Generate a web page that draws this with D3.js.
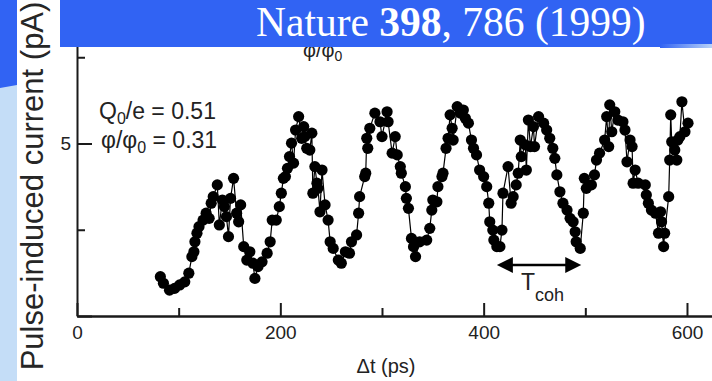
<!DOCTYPE html>
<html>
<head>
<meta charset="utf-8">
<script src="https://cdn.jsdelivr.net/npm/d3@7/dist/d3.min.js"></script>
<style>
  html, body { margin: 0; padding: 0; background: #fff; }
  svg { display: block; font-family: "Liberation Sans", Arial, Helvetica, sans-serif; }
</style>
</head>
<body>
<div id="chart"></div>
<script>
// Pulse-induced current vs delay time (Nakamura et al., Nature 398, 786)
const width = 712, height = 381;

// delay time, ps
const times = [
  82, 85, 91, 96, 101, 106, 110, 113, 115, 116, 118, 120, 124, 127, 130, 132, 134, 138, 140, 143,
  145, 147, 149, 151, 154, 157, 159, 161, 164, 167, 170, 173, 175, 178, 182, 187, 190, 192, 196, 199,
  201, 203, 205, 207, 209, 211, 213, 215, 218, 221, 223, 224, 226, 229, 231, 232, 234, 236, 237, 239,
  241, 244, 247, 249, 252, 257, 260, 264, 268, 270, 275, 277, 278, 283, 284, 285, 286, 288, 293, 298,
  300, 305, 306, 310, 313, 315, 318, 319, 323, 324, 326, 329, 331, 333, 337, 344, 347, 349, 350, 354,
  355, 359, 360, 363, 365, 367, 369, 370, 374, 377, 380, 382, 385, 388, 390, 393, 396, 400, 403, 405,
  406, 409, 410, 413, 416, 418, 419, 424, 427, 429, 432, 434, 436, 437, 441, 442, 444, 446, 449, 450,
  454, 459, 462, 465, 468, 470, 472, 475, 478, 482, 485, 488, 490, 491, 495, 498, 499, 501, 506, 509,
  511, 514, 519, 521, 523, 524, 526, 529, 532, 537, 539, 541, 544, 546, 547, 549, 552, 559, 560, 562,
  565, 569, 572, 574, 575, 577, 578, 582, 583, 584, 585, 588, 590, 591, 593, 595, 598, 601
];
// pulse-induced current, pA
const currents = [
  1.14, 0.95, 0.75, 0.80, 0.90, 0.99, 1.24, 1.72, 1.86, 2.15, 2.40, 2.59, 2.78, 2.98, 2.83, 3.27, 3.46, 3.80, 2.64, 3.36,
  3.17, 2.88, 2.30, 3.41, 3.99, 2.98, 2.73, 3.22, 2.01, 1.62, 1.86, 1.53, 1.09, 1.43, 1.57, 1.82, 2.15, 2.78, 2.78, 3.17,
  3.56, 3.99, 4.04, 4.28, 4.62, 5.01, 4.43, 5.39, 5.78, 5.15, 5.49, 5.20, 4.86, 4.81, 5.30, 3.56, 4.33, 3.85, 3.70, 3.02,
  4.23, 3.22, 2.78, 2.15, 1.96, 1.62, 1.53, 1.86, 1.82, 2.15, 2.35, 2.98, 3.46, 4.04, 4.14, 5.15, 4.86, 5.44, 5.88, 5.63,
  5.20, 5.92, 5.63, 4.72, 5.20, 4.67, 4.33, 4.14, 3.75, 3.41, 3.12, 2.25, 2.01, 1.72, 2.15, 2.20, 2.54, 3.07, 3.36, 3.31,
  3.75, 4.04, 4.14, 4.86, 5.15, 5.83, 5.44, 5.10, 6.07, 5.88, 5.97, 5.73, 5.59, 5.10, 4.86, 4.67, 4.23, 4.04, 3.75, 3.27,
  2.73, 2.49, 2.20, 2.01, 2.01, 2.49, 3.56, 4.33, 3.27, 3.46, 3.80, 4.14, 5.10, 4.62, 4.96, 4.23, 5.68, 4.91, 5.49, 4.91,
  5.78, 5.59, 5.39, 5.15, 4.86, 4.57, 4.09, 3.60, 3.27, 3.07, 2.83, 2.73, 2.44, 2.15, 1.96, 2.98, 3.99, 3.70, 3.80, 4.09,
  4.52, 4.72, 5.10, 5.78, 4.91, 6.12, 5.34, 5.92, 5.68, 5.63, 5.39, 4.47, 5.10, 4.91, 3.85, 4.23, 3.85, 3.80, 3.51, 3.27,
  3.07, 2.98, 2.40, 3.02, 2.73, 2.01, 2.40, 3.46, 4.52, 5.83, 5.05, 4.81, 4.52, 5.10, 5.20, 6.21, 5.34, 5.59
];

const xMajorTicks = [0, 200, 400, 600];
const xMinorTicks = [100, 300, 500];
const yMajorTicks = [0, 5];
const yMinorTicks = [2.5, 7.5];
const tcohSpan = [413, 496];   // coherence time arrow, ps
const tcohLevel = 1.48;        // arrow height, pA

const data = times.map((t, i) => ({t: t, v: currents[i]}));

const svg = d3.select("#chart").append("svg")
  .attr("width", width).attr("height", height);

const x = d3.scaleLinear().domain([0, 625]).range([77, 712.4]);
const y = d3.scaleLinear().domain([0, 10]).range([316, -29]);

// slide background: left strip
svg.append("rect").attr("x", 0).attr("y", 0).attr("width", 17).attr("height", height)
  .attr("fill", "#c4ddf7");
svg.append("polygon").attr("points", "0,0 17,0 17,85 0,88").attr("fill", "#3163f3");

// partly hidden plot title (under banner)
svg.append("text").attr("x", 303).attr("y", 57).attr("font-size", 20).attr("fill", "#222")
  .html('φ/φ<tspan dy="4" font-size="14">0</tspan>');

// axes
const axisColor = "#1a1a1a";
function styleAxis(g) {
  g.selectAll("path, line").attr("stroke", axisColor).attr("stroke-width", 2);
  g.selectAll("text").attr("fill", "#222").attr("font-size", 19)
    .attr("font-family", "'Liberation Sans', Arial, sans-serif");
}

svg.append("g").attr("transform", `translate(0,${y(0)})`)
  .call(d3.axisBottom(x).tickValues(xMajorTicks).tickSize(-13).tickSizeOuter(0).tickPadding(10))
  .call(styleAxis);
svg.append("g").attr("transform", `translate(0,${y(0)})`)
  .call(d3.axisBottom(x).tickValues(xMinorTicks).tickSize(-8).tickSizeOuter(0).tickFormat(""))
  .call(styleAxis);

const yAxis = svg.append("g").attr("transform", `translate(${x(0)},0)`)
  .call(d3.axisLeft(y).tickValues(yMajorTicks).tickSize(-15).tickSizeOuter(0).tickPadding(6))
  .call(styleAxis);
svg.append("g").attr("transform", `translate(${x(0)},0)`)
  .call(d3.axisLeft(y).tickValues(yMinorTicks).tickSize(-8).tickSizeOuter(0).tickFormat(""))
  .call(styleAxis)
  .select(".domain").remove();

// the zero label of the y axis is cut off at the figure's left edge
svg.append("clipPath").attr("id", "figclip")
  .append("rect").attr("x", 60).attr("y", 0).attr("width", width).attr("height", height);
yAxis.selectAll(".tick").filter(d => d === 0).select("text")
  .attr("transform", "translate(-4,-4)")
  .attr("clip-path", "url(#figclip)");

// data: connected dots
svg.append("path").datum(data)
  .attr("d", d3.line().x(d => x(d.t)).y(d => y(d.v)))
  .attr("fill", "none").attr("stroke", "#000").attr("stroke-width", 1.2);
svg.append("g").selectAll("circle").data(data).join("circle")
  .attr("cx", d => x(d.t)).attr("cy", d => y(d.v)).attr("r", 5.6).attr("fill", "#000");

// parameters
svg.append("text").attr("x", 99).attr("y", 119).attr("font-size", 23).attr("fill", "#222")
  .html('Q<tspan dy="5" font-size="16">0</tspan><tspan dy="-5">/e = 0.51</tspan>');
svg.append("text").attr("x", 101).attr("y", 148).attr("font-size", 23).attr("fill", "#222")
  .html('φ/φ<tspan dy="5" font-size="16">0</tspan><tspan dy="-5"> = 0.31</tspan>');

// T_coh arrow
const ax0 = x(tcohSpan[0]), ax1 = x(tcohSpan[1]), ay = y(tcohLevel);
const head = 16, half = 8;
svg.append("line").attr("x1", ax0 + head - 2).attr("x2", ax1 - head + 2)
  .attr("y1", ay).attr("y2", ay).attr("stroke", "#000").attr("stroke-width", 2.5);
svg.append("polygon")
  .attr("points", `${ax0},${ay} ${ax0 + head},${ay - half} ${ax0 + head},${ay + half}`).attr("fill", "#000");
svg.append("polygon")
  .attr("points", `${ax1},${ay} ${ax1 - head},${ay - half} ${ax1 - head},${ay + half}`).attr("fill", "#000");
svg.append("text").attr("x", 521).attr("y", 290).attr("font-size", 23).attr("fill", "#222")
  .html('T<tspan dy="11" font-size="18">coh</tspan>');

// axis titles
svg.append("text").attr("x", 386).attr("y", 373).attr("text-anchor", "middle")
  .attr("font-size", 20).attr("fill", "#222").text("Δt (ps)");
svg.append("text").attr("transform", "translate(43,186) rotate(-90)")
  .attr("text-anchor", "middle").attr("font-size", 31).attr("fill", "#262626")
  .text("Pulse-induced current (pA)");

// citation banner
svg.append("rect").attr("x", 60).attr("y", 0).attr("width", width - 60).attr("height", 47)
  .attr("fill", "#3163f3");
const grad = svg.append("defs").append("linearGradient").attr("id", "edge");
grad.append("stop").attr("offset", "0%").attr("stop-color", "#3163f3");
grad.append("stop").attr("offset", "100%").attr("stop-color", "#b9d3f7");
svg.append("rect").attr("x", 660).attr("y", 44).attr("width", 52).attr("height", 4)
  .attr("fill", "url(#edge)");
svg.append("text").attr("x", 256).attr("y", 36)
  .attr("font-family", "'Liberation Serif', 'Times New Roman', serif")
  .attr("font-size", 41.5).attr("fill", "#fff")
  .html('Nature <tspan font-weight="bold">398</tspan>, 786 (1999)');
</script>
</body>
</html>
